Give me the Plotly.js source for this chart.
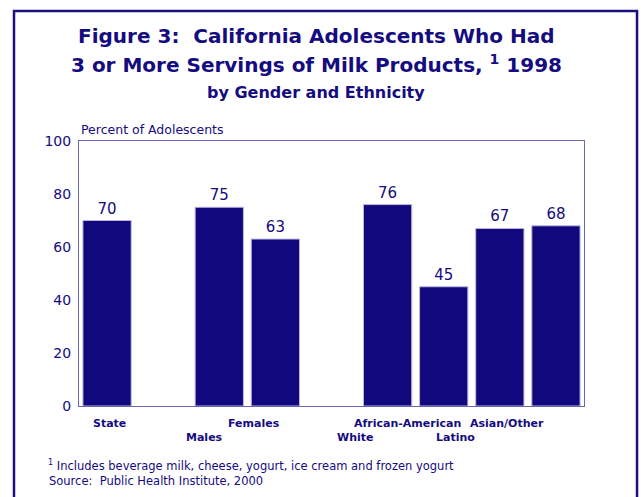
<!DOCTYPE html>
<html>
<head>
<meta charset="utf-8">
<script src="https://cdn.plot.ly/plotly-3.0.1.min.js"></script>
<style>html,body{margin:0;padding:0;background:#fff;}#chart{width:641px;height:497px;}</style>
</head>
<body>
<div id="chart"></div>
<script>
// Data
const categories = ["State", "Males", "Females", "White", "African-American", "Latino", "Asian/Other"];
const values = [70, 75, 63, 76, 45, 67, 68];
// axis order, with two empty slots separating the groups
const axisOrder = ["State", " ", "Males", "Females", "  ", "White", "African-American", "Latino", "Asian/Other"];
const yTicks = [0, 20, 40, 60, 80, 100];
// label row (0 = upper, 1 = lower) and horizontal nudge in px
const labelRow = [0, 1, 0, 1, 0, 1, 0];
const labelShift = [2, -15, -21, -33, -36, -44, -49];

const navy = "#140c80";
const txtFont = "DejaVu Sans, Verdana, sans-serif";

const annotations = [];
categories.forEach((c, i) => {
  annotations.push({
    x: c, y: 0, xref: "x", yref: "y",
    text: "<b>" + c + "</b>", showarrow: false,
    xanchor: "center", yanchor: "middle",
    yshift: labelRow[i] === 0 ? -17 : -31,
    xshift: labelShift[i],
    font: {family: txtFont, size: 11, color: navy}
  });
});
annotations.push(
  {xref: "paper", yref: "paper", x: 0.47, y: 1.49, yanchor: "middle", xanchor: "center", yshift: -25, showarrow: false,
   text: "<b>Figure 3:  California Adolescents Who Had</b>", font: {family: txtFont, size: 20, color: navy}},
  {xref: "paper", yref: "paper", x: 0.47, y: 1.49, yanchor: "middle", xanchor: "center", yshift: -53, showarrow: false,
   text: "<b>3 or More Servings of Milk Products, <sup>1</sup> 1998</b>", font: {family: txtFont, size: 20, color: navy}},
  {xref: "paper", yref: "paper", x: 0.47, y: 1.49, yanchor: "middle", xanchor: "center", yshift: -81, showarrow: false,
   text: "<b>by Gender and Ethnicity</b>", font: {family: txtFont, size: 16, color: navy}},
  {xref: "paper", yref: "paper", x: 0, y: 1, yanchor: "middle", xanchor: "left", xshift: 0, yshift: 12, showarrow: false,
   text: "Percent of Adolescents", font: {family: txtFont, size: 12.5, color: navy}},
  {xref: "paper", yref: "paper", x: 0, y: 0, yanchor: "middle", xanchor: "left", xshift: -33, yshift: -59, showarrow: false,
   text: "<sup>1</sup> Includes beverage milk, cheese, yogurt, ice cream and frozen yogurt", font: {family: txtFont, size: 11.5, color: navy}},
  {xref: "paper", yref: "paper", x: 0, y: 0, yanchor: "middle", xanchor: "left", xshift: -32, yshift: -75, showarrow: false,
   text: "Source:  Public Health Institute, 2000", font: {family: txtFont, size: 11.5, color: navy}}
);

const trace = {
  type: "bar",
  x: categories,
  y: values,
  width: 0.86,
  marker: {color: "#12087e", line: {color: "#b8b8dc", width: 1}},
  text: values.map(String),
  textposition: "outside",
  textfont: {family: txtFont, size: 15, color: navy},
  cliponaxis: false,
  hoverinfo: "none"
};

const layout = {
  width: 641, height: 497,
  margin: {l: 79, r: 57, t: 141, b: 91},
  paper_bgcolor: "#ffffff", plot_bgcolor: "#ffffff",
  showlegend: false,
  xaxis: {type: "category", categoryarray: axisOrder, categoryorder: "array", range: [-0.5, axisOrder.length - 0.5],
          showticklabels: false, showline: true, mirror: true, linecolor: "#6a66b4", linewidth: 1,
          showgrid: false, zeroline: false, fixedrange: true},
  yaxis: {range: [0, 100], tickvals: yTicks, ticktext: yTicks.map(String), showgrid: false, zeroline: false,
          showline: true, mirror: true, linecolor: "#6a66b4", linewidth: 1, ticks: "", ticklabelstandoff: 4,
          tickfont: {family: txtFont, size: 14, color: navy}},
  annotations: annotations,
  shapes: [
    {type: "rect", xref: "paper", yref: "paper", x0: -0.1287, x1: 1.105, y0: -0.36, y1: 1.4906,
     line: {color: "#1a1080", width: 2.5}, fillcolor: "rgba(0,0,0,0)", layer: "below"}
  ]
};

Plotly.newPlot("chart", [trace], layout, {displayModeBar: false, staticPlot: true});
</script>
</body>
</html>
